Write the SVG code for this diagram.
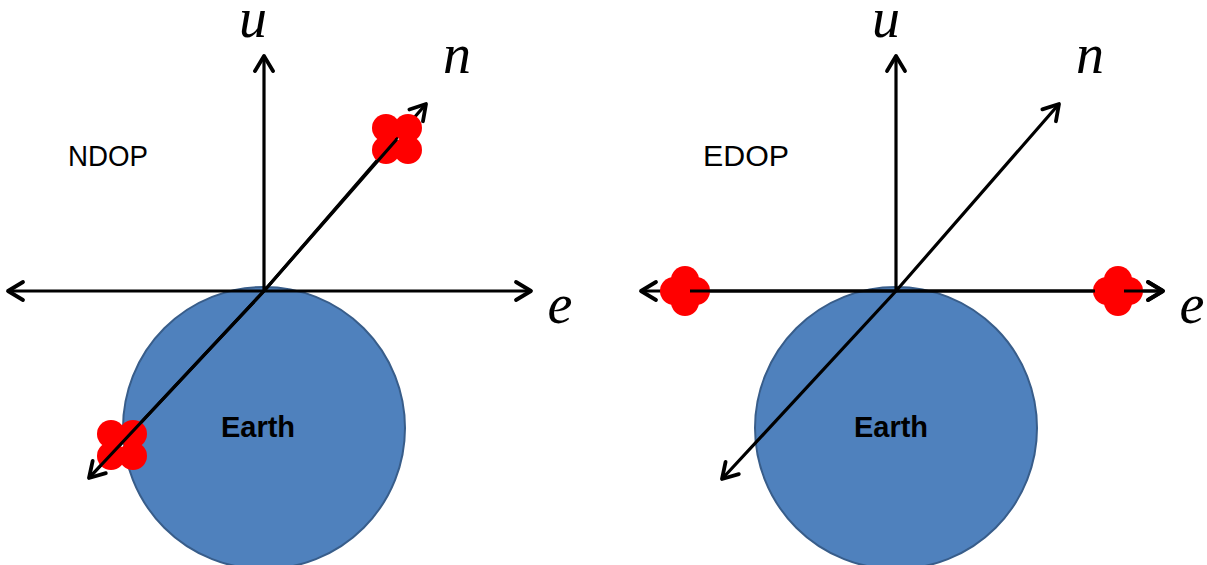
<svg xmlns="http://www.w3.org/2000/svg" width="1207" height="565" viewBox="0 0 1207 565">
  <style>
    .earth { fill: #4F81BD; stroke: #385D8A; stroke-width: 2; }
    .axis { fill: none; stroke: #000; stroke-width: 3.2; }
    .axis-a { fill: none; stroke: #000; stroke-width: 3.2; marker-end: url(#arr); }
    .axis-b { fill: none; stroke: #000; stroke-width: 3.2; marker-start: url(#arr); marker-end: url(#arr); }
    .lbl { font-family: "Liberation Serif", "Times New Roman", serif; font-style: italic; font-size: 56px; fill: #000; text-anchor: middle; }
    .dop { font-family: "Liberation Sans", Arial, sans-serif; font-size: 30px; fill: #000; }
    .earth-t { font-family: "Liberation Sans", Arial, sans-serif; font-weight: bold; font-size: 29px; fill: #000; text-anchor: middle; }
    .blob circle { fill: #FF0000; }
  </style>
  <defs>
    <marker id="arr" markerUnits="userSpaceOnUse" viewBox="-20 -12 24 24" refX="0" refY="0" markerWidth="24" markerHeight="24" orient="auto-start-reverse">
      <path d="M -15 -9 L 0 0 L -15 9" fill="none" stroke="#000" stroke-width="3.8" stroke-linejoin="round" stroke-linecap="round"/>
    </marker>
    <g id="blobX" class="blob">
      <circle cx="-11" cy="-11" r="14"/>
      <circle cx="11" cy="-11" r="14"/>
      <circle cx="-11" cy="11" r="14"/>
      <circle cx="11" cy="11" r="14"/>
    </g>
    <g id="blobPlus" class="blob">
      <circle cx="0" cy="-11" r="14"/>
      <circle cx="0" cy="11" r="14"/>
      <circle cx="-11" cy="0" r="14"/>
      <circle cx="11" cy="0" r="14"/>
    </g>
  </defs>

  <!-- Left panel: NDOP -->
  <g id="earth-left">
    <circle class="earth" cx="264" cy="428" r="141"/>
    <text class="earth-t" x="258" y="437">Earth</text>
  </g>
  <g id="label-ndop">
    <text class="dop" x="68" y="166" textLength="80" lengthAdjust="spacingAndGlyphs">NDOP</text>
  </g>
  <g id="connectors-left">
    <path class="axis-a" d="M 264 291 L 264 56"/>
    <path class="axis-b" d="M 8 291 L 531 291"/>
    <path class="axis-b" d="M 89 478 L 264 291 L 426 104"/>
  </g>
  <g id="sat-left-top"><use href="#blobX" x="397" y="139"/></g>
  <g id="sat-left-bottom"><use href="#blobX" x="122" y="445"/></g>
  <g id="connectors-left-overlay">
    <path class="axis" d="M 89 478 L 264 291 L 397 139"/>
  </g>
  <g id="labels-left">
    <text class="lbl" x="253" y="37">u</text>
    <text class="lbl" x="457" y="73">n</text>
    <text class="lbl" x="560" y="323">e</text>
  </g>

  <!-- Right panel: EDOP -->
  <g id="earth-right">
    <circle class="earth" cx="896" cy="428" r="141"/>
    <text class="earth-t" x="891" y="437">Earth</text>
  </g>
  <g id="label-edop">
    <text class="dop" x="703" y="166" textLength="86" lengthAdjust="spacingAndGlyphs">EDOP</text>
  </g>
  <g id="connectors-right">
    <path class="axis-a" d="M 896 291 L 896 56"/>
    <path class="axis-b" d="M 641 291 L 1163 291"/>
    <path class="axis-b" d="M 722 479 L 896 291 L 1059 104"/>
  </g>
  <g id="sat-right-left"><use href="#blobPlus" x="685" y="291"/></g>
  <g id="sat-right-right"><use href="#blobPlus" x="1118" y="291"/></g>
  <g id="connectors-right-overlay">
    <path class="axis" d="M 690 291 L 1095 291"/>
    <path class="axis-a" d="M 1124 291 L 1163 291"/>
  </g>
  <g id="labels-right">
    <text class="lbl" x="886" y="37">u</text>
    <text class="lbl" x="1090" y="73">n</text>
    <text class="lbl" x="1192" y="323">e</text>
  </g>
</svg>
